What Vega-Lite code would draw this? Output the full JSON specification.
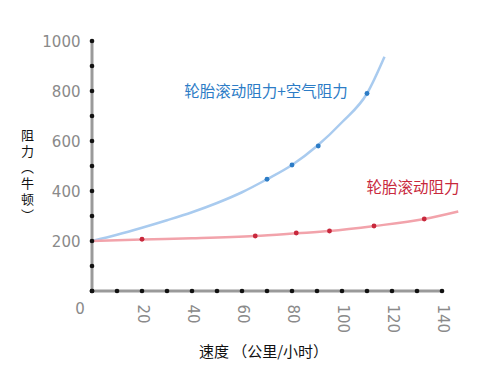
{
  "$schema": "https://vega.github.io/schema/vega-lite/v6.json",
  "width": 350,
  "height": 250,
  "autosize": {"type": "none"},
  "padding": {"left": 92, "top": 41, "right": 58, "bottom": 99},
  "background": "white",
  "config": {"view": {"stroke": null}, "font": "DejaVu Sans"},
  "datasets": {
    "curves": [
      {"series": "total", "speed": 0, "force": 200},
      {"series": "total", "speed": 10, "force": 225},
      {"series": "total", "speed": 20, "force": 253},
      {"series": "total", "speed": 30, "force": 283},
      {"series": "total", "speed": 40, "force": 315},
      {"series": "total", "speed": 50, "force": 352},
      {"series": "total", "speed": 60, "force": 395},
      {"series": "total", "speed": 70, "force": 447},
      {"series": "total", "speed": 80, "force": 504},
      {"series": "total", "speed": 90, "force": 580},
      {"series": "total", "speed": 100, "force": 675},
      {"series": "total", "speed": 110, "force": 790},
      {"series": "total", "speed": 117, "force": 937},
      {"series": "rolling", "speed": 0, "force": 200},
      {"series": "rolling", "speed": 20, "force": 206},
      {"series": "rolling", "speed": 40, "force": 211},
      {"series": "rolling", "speed": 65, "force": 220},
      {"series": "rolling", "speed": 82, "force": 231},
      {"series": "rolling", "speed": 95, "force": 240},
      {"series": "rolling", "speed": 113, "force": 260},
      {"series": "rolling", "speed": 133, "force": 288},
      {"series": "rolling", "speed": 146.5, "force": 318}
    ],
    "points": [
      {"series": "total", "speed": 70, "force": 447},
      {"series": "total", "speed": 80, "force": 504},
      {"series": "total", "speed": 90.5, "force": 580},
      {"series": "total", "speed": 110, "force": 790},
      {"series": "rolling", "speed": 20, "force": 207},
      {"series": "rolling", "speed": 65.3, "force": 220},
      {"series": "rolling", "speed": 81.7, "force": 232},
      {"series": "rolling", "speed": 95, "force": 240},
      {"series": "rolling", "speed": 112.8, "force": 260},
      {"series": "rolling", "speed": 132.9, "force": 288}
    ],
    "labels": [
      {"series": "total", "speed": 69.6, "force": 796, "text": "轮胎滚动阻力+空气阻力"},
      {"series": "rolling", "speed": 128.4, "force": 412, "text": "轮胎滚动阻力"}
    ],
    "xticks": [
      {"speed": 0}, {"speed": 10}, {"speed": 20}, {"speed": 30}, {"speed": 40},
      {"speed": 50}, {"speed": 60}, {"speed": 70}, {"speed": 80}, {"speed": 90},
      {"speed": 100}, {"speed": 110}, {"speed": 120}, {"speed": 130}, {"speed": 140}
    ],
    "yticks": [
      {"force": 0}, {"force": 100}, {"force": 200}, {"force": 300}, {"force": 400},
      {"force": 500}, {"force": 600}, {"force": 700}, {"force": 800}, {"force": 900},
      {"force": 1000}
    ]
  },
  "layer": [
    {
      "data": {"values": [{}]},
      "mark": {"type": "rule", "color": "#9a9a9a", "strokeWidth": 3},
      "encoding": {"y": {"datum": 0, "type": "quantitative"}}
    },
    {
      "data": {"values": [{}]},
      "mark": {"type": "rule", "color": "#9a9a9a", "strokeWidth": 3},
      "encoding": {"x": {"datum": 0, "type": "quantitative"}}
    },
    {
      "data": {"name": "curves"},
      "transform": [{"filter": "datum.series === 'total'"}],
      "mark": {"type": "line", "interpolate": "monotone", "color": "#a9cbef", "strokeWidth": 2.5},
      "encoding": {
        "x": {
          "field": "speed", "type": "quantitative",
          "scale": {"domain": [0, 140], "nice": false},
          "axis": {
            "values": [20, 40, 60, 80, 100, 120, 140],
            "labelOverlap": false,
            "labelAngle": 90,
            "labelColor": "#8a8a8a",
            "labelFontSize": 15,
            "labelPadding": 13,
            "grid": false,
            "domain": false,
            "ticks": false,
            "title": "速度 （公里/小时）",
            "titleFont": "Noto Sans CJK SC",
            "titleFontSize": 15,
            "titleFontWeight": "normal",
            "titleColor": "#111111",
            "titleX": 171,
            "titleY": 60,
            "titleBaseline": "middle"
          }
        },
        "y": {
          "field": "force", "type": "quantitative",
          "scale": {"domain": [0, 1000], "nice": false},
          "axis": {
            "values": [200, 400, 600, 800, 1000],
            "format": "d",
            "labelOverlap": false,
            "labelColor": "#8a8a8a",
            "labelFontSize": 15,
            "labelPadding": 12,
            "grid": false,
            "domain": false,
            "ticks": false,
            "title": ["阻", "力", "︵", "牛", "顿", "︶"],
            "titleFont": "Noto Sans CJK SC",
            "titleFontSize": 13,
            "titleFontWeight": "normal",
            "titleColor": "#111111",
            "titleAngle": 0,
            "titleAlign": "center",
            "titleBaseline": "top",
            "titleLineHeight": 16,
            "titleX": -65,
            "titleY": 88
          }
        }
      }
    },
    {
      "data": {"name": "curves"},
      "transform": [{"filter": "datum.series === 'rolling'"}],
      "mark": {"type": "line", "interpolate": "monotone", "color": "#f2a3ab", "strokeWidth": 2.5},
      "encoding": {
        "x": {"field": "speed", "type": "quantitative"},
        "y": {"field": "force", "type": "quantitative"}
      }
    },
    {
      "data": {"name": "xticks"},
      "mark": {"type": "circle", "size": 22, "color": "#111111", "opacity": 1},
      "encoding": {
        "x": {"field": "speed", "type": "quantitative"},
        "y": {"datum": 0, "type": "quantitative"}
      }
    },
    {
      "data": {"name": "yticks"},
      "mark": {"type": "circle", "size": 22, "color": "#111111", "opacity": 1},
      "encoding": {
        "x": {"datum": 0, "type": "quantitative"},
        "y": {"field": "force", "type": "quantitative"}
      }
    },
    {
      "data": {"name": "points"},
      "mark": {"type": "circle", "size": 24, "opacity": 1},
      "encoding": {
        "x": {"field": "speed", "type": "quantitative"},
        "y": {"field": "force", "type": "quantitative"},
        "color": {"field": "series", "type": "nominal", "scale": {"domain": ["total", "rolling"], "range": ["#2c7cc6", "#c8283c"]}, "legend": null}
      }
    },
    {
      "data": {"name": "labels"},
      "mark": {"type": "text", "font": "Noto Sans CJK SC", "fontSize": 15.5, "align": "center", "baseline": "middle"},
      "encoding": {
        "x": {"field": "speed", "type": "quantitative"},
        "y": {"field": "force", "type": "quantitative"},
        "text": {"field": "text"},
        "color": {"field": "series", "type": "nominal", "scale": {"domain": ["total", "rolling"], "range": ["#2c7cc6", "#c8283c"]}, "legend": null}
      }
    },
    {
      "data": {"values": [{"speed": 0, "force": 0, "text": "0"}]},
      "mark": {"type": "text", "fontSize": 15, "color": "#8a8a8a", "dx": -12, "dy": 18, "align": "center", "baseline": "middle"},
      "encoding": {
        "x": {"field": "speed", "type": "quantitative"},
        "y": {"field": "force", "type": "quantitative"},
        "text": {"field": "text"}
      }
    }
  ]
}
